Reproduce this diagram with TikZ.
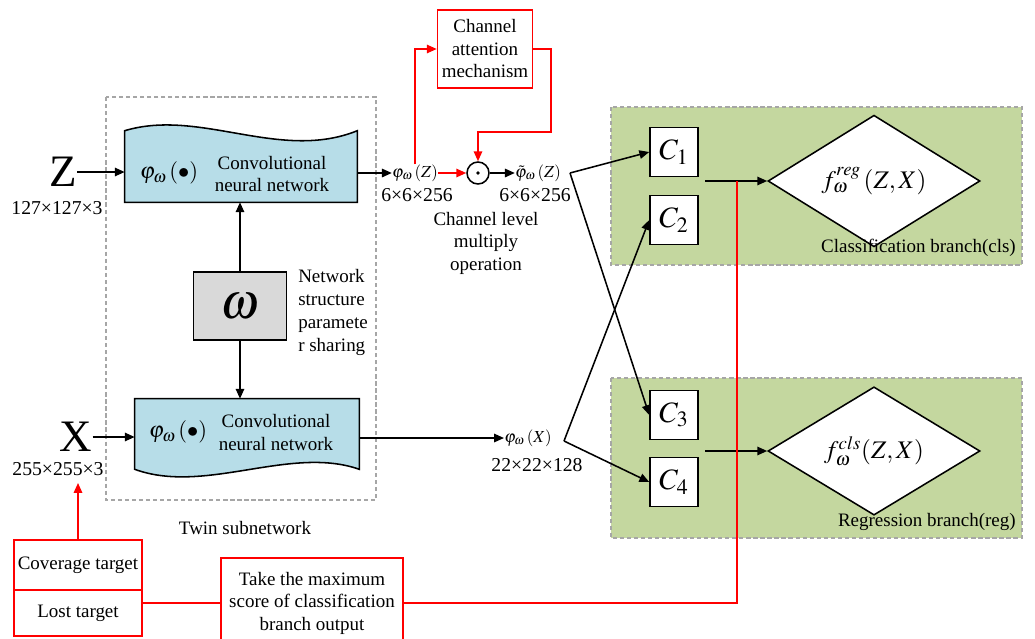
\documentclass[tikz,border=0pt]{standalone}
\usepackage{mathptmx}
\usepackage{fontspec}
\setmainfont{Liberation Serif}
\usepackage{tikz}
\usetikzlibrary{shapes.geometric,arrows.meta}
\definecolor{cnnblue}{HTML}{B7DDE8}
\definecolor{brgreen}{HTML}{C4D79F}
\definecolor{wgrey}{HTML}{D9D9D9}
\definecolor{dgrey}{HTML}{A6A6A6}

\begin{document}
\begin{tikzpicture}[x=0.025cm,y=-0.025cm,
  every node/.style={inner sep=0pt,align=center,
    font=\fontsize{13.5}{16}\selectfont},
  sizelbl/.style={font=\fontsize{14}{16}\selectfont},
  cnn/.style={minimum width=5.8cm,minimum height=1.775cm},
  cbox/.style={draw,line width=1.1pt,fill=white,minimum width=1.2cm,
    minimum height=1.225cm,font=\fontsize{21}{24}\selectfont},
  dia/.style={draw,line width=1.1pt,fill=white,diamond,minimum width=5.3cm,
    minimum height=2.35cm,font=\fontsize{18}{20}\selectfont},
  redbox/.style={draw=red,line width=1.1pt,fill=white},
  dashbox/.style={draw=dgrey,densely dashed,line width=0.8pt},
  arr/.style={-{Triangle[length=7pt,width=6pt]},line width=1.1pt},
  rarr/.style={arr,red}]
  \useasboundingbox (0,0) rectangle (1035,639);
  \draw[dashbox] (106,97) rectangle (376,500);
  \draw[dashbox,fill=brgreen] (611,107) rectangle (1022,265);
  \draw[dashbox,fill=brgreen] (611,378) rectangle (1022,538);

  \node[cnn] (cnnz) at (241,166.5) {};
  \draw[line width=1.1pt,fill=cnnblue] (cnnz.south west) -- (cnnz.south east) -- (cnnz.north east)
    .. controls (280,162) and (200,108) .. (cnnz.north west) -- cycle;
  \node[font=\fontsize{16}{18}\selectfont] (phiz0) at (169,173) {$\varphi_{\omega}\left(\bullet\right)$};
  \node (cnnztxt) at (272,174) {Convolutional\\neural network};

  \node[cnn,minimum width=5.6cm,minimum height=1.75cm] (cnnx) at (247,434) {};
  \draw[line width=1.1pt,fill=cnnblue] (cnnx.north west) -- (cnnx.north east) -- (cnnx.south east)
    .. controls (290,445) and (205,495) .. (cnnx.south west) -- cycle;
  \node[font=\fontsize{16}{18}\selectfont] (phix0) at (178,432) {$\varphi_{\omega}\left(\bullet\right)$};
  \node (cnnxtxt) at (276,432.5) {Convolutional\\neural network};

  \node[font=\fontsize{32}{34}\selectfont] (z) at (63,172) {Z};
  \node[sizelbl] (zsize) at (57,208) {127×127×3};
  \node[font=\fontsize{32}{34}\selectfont] (x) at (76,437) {X};
  \node[sizelbl] (xsize) at (58,469) {255×255×3};

  \node[draw,line width=1.1pt,fill=wgrey,minimum width=2.325cm,minimum height=1.7cm,
    font=\fontsize{36}{38}\selectfont] (omega) at (240,306) {$\omega$};
  \node[anchor=west,align=left,font=\fontsize{13.5}{16.3}\selectfont] (share) at (298,312.5)
    {Network\\structure\\paramete\\r sharing};

  \node[font=\fontsize{12}{14}\selectfont] (phiz) at (415,173) {$\varphi_{\omega}\left(Z\right)$};
  \node[sizelbl] (phizsize) at (417,195) {6×6×256};
  \node[draw,circle,line width=1.1pt,minimum size=0.55cm] (dot) at (478,173) {};
  \fill (dot) circle (1.4pt);
  \node[font=\fontsize{12}{14}\selectfont] (phit) at (538,173) {$\tilde{\varphi}_{\omega}\left(Z\right)$};
  \node[sizelbl] (phitsize) at (535,195) {6×6×256};
  \node[font=\fontsize{13.5}{16}\selectfont] (mult) at (486,243) {Channel level\\multiply\\operation};
  \node[redbox,minimum width=2.375cm,minimum height=1.95cm] (cam) at (485,49)
    {Channel\\attention\\mechanism};

  \node[font=\fontsize{12}{14}\selectfont] (phix) at (528,438) {$\varphi_{\omega}\left(X\right)$};
  \node[sizelbl] (phixsize) at (537,465) {22×22×128};

  \node (twin) at (245,528) {Twin subnetwork};

  \node[cbox] (c1) at (674,152) {$C_1$};
  \node[cbox] (c2) at (674,220) {$C_2$};
  \node[cbox] (c3) at (674,415) {$C_3$};
  \node[cbox] (c4) at (674,482) {$C_4$};
  \node[dia] (dreg) at (874,181) {$f_{\omega}^{reg}\left(Z,X\right)$};
  \node[dia] (dcls) at (874,451) {$f_{\omega}^{cls}(Z,X)$};
  \node[anchor=east] (clsname) at (1016,248) {Classification branch(cls)};
  \node[anchor=east] (regname) at (1016,522) {Regression branch(reg)};

  \node[redbox,minimum width=3.2cm,minimum height=1.25cm] (cov) at (78,565) {Coverage target};
  \node[redbox,minimum width=3.2cm,minimum height=1.15cm] (lost) at (78,613) {Lost target};
  \node[redbox,minimum width=4.55cm,minimum height=2.25cm] (maxs) at (312,603)
    {Take the maximum\\score of classification\\branch output};

  \coordinate (kz) at (570,173);
  \coordinate (kx) at (564,441);
  \coordinate (sreg) at (705,181);
  \coordinate (scls) at (705,451);
  \coordinate (camr) at (551,132);
  \coordinate (xin) at (78,483);
  \coordinate (rtop) at (737,181);

  \draw[arr] (z.east) -- (z -| cnnz.west);
  \draw[arr] (x.east) -- (x -| cnnx.west);
  \draw[arr] (omega.north) -- (omega.north |- cnnz.south);
  \draw[arr] (omega.south) -- (omega.south |- cnnx.north);
  \draw[arr] (cnnz.east |- phiz) -- (phiz.west);
  \draw[rarr] (phiz.east) -- (dot.west);
  \draw[arr] (dot.east) -- (phit.west);
  \draw[rarr] (phiz.north) |- (cam.west);
  \draw[rarr] (cam.east) -| (camr) -| (dot.north);
  \draw[arr] (cnnx.east |- phix) -- (phix.west);
  \draw[arr] (kz) -- (c1.west);
  \draw[arr] (kz) -- (c3.west);
  \draw[arr] (kx) -- (c2.west);
  \draw[arr] (kx) -- (c4.west);
  \draw[arr] (sreg) -- (dreg.west);
  \draw[arr] (scls) -- (dcls.west);
  \draw[rarr] (cov.north) -- (xin);
  \draw[red,line width=1.1pt] (maxs.west) -- (maxs.west -| lost.east);
  \draw[red,line width=1.1pt] (maxs.east) -| (rtop);
\end{tikzpicture}
\end{document}
